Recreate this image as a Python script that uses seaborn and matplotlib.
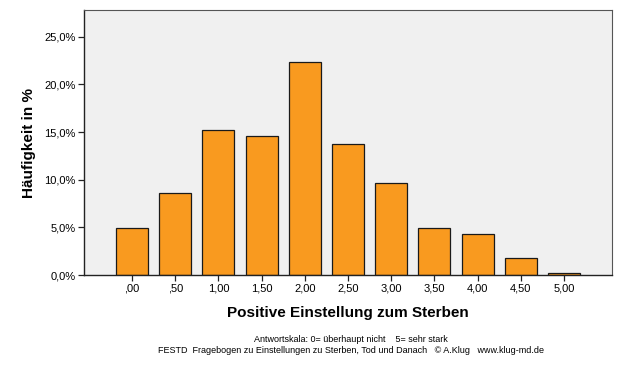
import matplotlib
matplotlib.use("Agg")
import matplotlib.pyplot as plt
import seaborn as sns
import pandas as pd
from matplotlib.ticker import FuncFormatter

# Werte (Prozent)
kategorien = [",00", ",50", "1,00", "1,50", "2,00", "2,50", "3,00", "3,50", "4,00", "4,50", "5,00"]
prozent = [4.9, 8.6, 15.2, 14.6, 22.3, 13.7, 9.7, 4.9, 4.3, 1.75, 0.25]
y_ticks = [0, 5, 10, 15, 20, 25]

df = pd.DataFrame({"Kategorie": kategorien, "Prozent": prozent})

sns.set_style("white")
plt.rcParams["font.family"] = ["Liberation Sans", "DejaVu Sans"]
plt.rcParams["text.color"] = "black"
plt.rcParams["axes.labelcolor"] = "black"
plt.rcParams["xtick.color"] = "black"
plt.rcParams["ytick.color"] = "black"

fig = plt.figure(figsize=(6.26, 3.66), dpi=100)
ax = fig.add_axes([0.1342, 0.2486, 0.8435, 0.724])
ax.set_facecolor("#F0F0F0")

sns.barplot(data=df, x="Kategorie", y="Prozent", color="#F99A1F", saturation=1,
            width=0.74, edgecolor="#1a1a1a", linewidth=0.9, ax=ax)

ax.set_xlim(-1.11, len(kategorien) - 1 + 1.11)
ax.set_ylim(0, 27.8)
ax.set_yticks(y_ticks)
ax.yaxis.set_major_formatter(FuncFormatter(lambda v, p: f"{v:.1f}%".replace(".", ",")))

for s in ["left", "bottom"]:
    ax.spines[s].set_color("#222222")
    ax.spines[s].set_linewidth(1.0)
for s in ["top", "right"]:
    ax.spines[s].set_color("#555555")
    ax.spines[s].set_linewidth(0.8)

ax.tick_params(axis="both", which="both", direction="out", length=4, width=0.9,
               color="#222222", labelcolor="black", labelsize=8, pad=2,
               bottom=True, left=True)

ax.set_xlabel("Positive Einstellung zum Sterben", fontsize=11, fontweight="bold",
              labelpad=9, color="black")
ax.set_ylabel("Häufigkeit in %", fontsize=11, fontweight="bold", labelpad=6, color="black")

fig.text(0.56, 0.072, "Antwortskala: 0= überhaupt nicht    5= sehr stark",
         ha="center", va="center", fontsize=6.5, color="black")
fig.text(0.56, 0.042,
         "FESTD  Fragebogen zu Einstellungen zu Sterben, Tod und Danach   © A.Klug   www.klug-md.de",
         ha="center", va="center", fontsize=6.5, color="black")

fig.savefig("out.png", dpi=100, facecolor="white")
